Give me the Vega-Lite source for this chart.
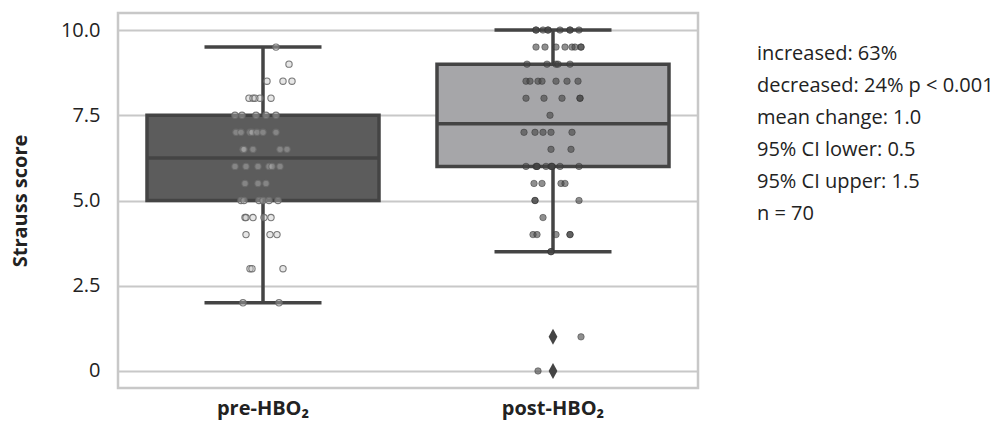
{
  "$schema": "https://vega.github.io/schema/vega-lite/v6.json",
  "padding": {"left": 9, "top": 11, "right": 0, "bottom": 0},
  "spacing": 57,
  "config": {
    "view": {"stroke": null},
    "font": "Open Sans",
    "axis": {"labelFont": "Open Sans", "titleFont": "Open Sans", "labelColor": "#222", "titleColor": "#222"}
  },
  "datasets": {
    "box": [
      {"g": "pre-HBO₂", "lower": 2.0, "q1": 5.0, "median": 6.25, "q3": 7.5, "upper": 9.5},
      {"g": "post-HBO₂", "lower": 3.5, "q1": 6.0, "median": 7.25, "q3": 9.0, "upper": 10.0}
    ],
    "outliers": [
      {"g": "post-HBO₂", "s": 1.0},
      {"g": "post-HBO₂", "s": 0.0}
    ],
    "pre": [
      {"g": "pre-HBO₂", "s": 9.5, "j": 13},
      {"g": "pre-HBO₂", "s": 9.0, "j": 26},
      {"g": "pre-HBO₂", "s": 8.5, "j": 4}, {"g": "pre-HBO₂", "s": 8.5, "j": 20}, {"g": "pre-HBO₂", "s": 8.5, "j": 29},
      {"g": "pre-HBO₂", "s": 8.0, "j": -14}, {"g": "pre-HBO₂", "s": 8.0, "j": -10}, {"g": "pre-HBO₂", "s": 8.0, "j": -8}, {"g": "pre-HBO₂", "s": 8.0, "j": -3}, {"g": "pre-HBO₂", "s": 8.0, "j": 8},
      {"g": "pre-HBO₂", "s": 7.5, "j": -28}, {"g": "pre-HBO₂", "s": 7.5, "j": -21}, {"g": "pre-HBO₂", "s": 7.5, "j": -7}, {"g": "pre-HBO₂", "s": 7.5, "j": 3}, {"g": "pre-HBO₂", "s": 7.5, "j": 13},
      {"g": "pre-HBO₂", "s": 7.0, "j": -27}, {"g": "pre-HBO₂", "s": 7.0, "j": -22}, {"g": "pre-HBO₂", "s": 7.0, "j": -13}, {"g": "pre-HBO₂", "s": 7.0, "j": -11}, {"g": "pre-HBO₂", "s": 7.0, "j": -6}, {"g": "pre-HBO₂", "s": 7.0, "j": 0}, {"g": "pre-HBO₂", "s": 7.0, "j": 13},
      {"g": "pre-HBO₂", "s": 6.5, "j": -20}, {"g": "pre-HBO₂", "s": 6.5, "j": -19}, {"g": "pre-HBO₂", "s": 6.5, "j": -10}, {"g": "pre-HBO₂", "s": 6.5, "j": 17}, {"g": "pre-HBO₂", "s": 6.5, "j": 24},
      {"g": "pre-HBO₂", "s": 6.0, "j": -28}, {"g": "pre-HBO₂", "s": 6.0, "j": -17}, {"g": "pre-HBO₂", "s": 6.0, "j": -5}, {"g": "pre-HBO₂", "s": 6.0, "j": 6}, {"g": "pre-HBO₂", "s": 6.0, "j": 9}, {"g": "pre-HBO₂", "s": 6.0, "j": 17},
      {"g": "pre-HBO₂", "s": 5.5, "j": -18}, {"g": "pre-HBO₂", "s": 5.5, "j": -5}, {"g": "pre-HBO₂", "s": 5.5, "j": 3},
      {"g": "pre-HBO₂", "s": 5.0, "j": -22}, {"g": "pre-HBO₂", "s": 5.0, "j": -19}, {"g": "pre-HBO₂", "s": 5.0, "j": -4}, {"g": "pre-HBO₂", "s": 5.0, "j": 0}, {"g": "pre-HBO₂", "s": 5.0, "j": 6}, {"g": "pre-HBO₂", "s": 5.0, "j": 15},
      {"g": "pre-HBO₂", "s": 4.5, "j": -18}, {"g": "pre-HBO₂", "s": 4.5, "j": -17}, {"g": "pre-HBO₂", "s": 4.5, "j": -10}, {"g": "pre-HBO₂", "s": 4.5, "j": 1}, {"g": "pre-HBO₂", "s": 4.5, "j": 8},
      {"g": "pre-HBO₂", "s": 4.0, "j": -17}, {"g": "pre-HBO₂", "s": 4.0, "j": 7}, {"g": "pre-HBO₂", "s": 4.0, "j": 14},
      {"g": "pre-HBO₂", "s": 3.0, "j": -13}, {"g": "pre-HBO₂", "s": 3.0, "j": -11}, {"g": "pre-HBO₂", "s": 3.0, "j": 20},
      {"g": "pre-HBO₂", "s": 2.0, "j": -20}, {"g": "pre-HBO₂", "s": 2.0, "j": 16}
    ],
    "post": [
      {"g": "post-HBO₂", "s": 10.0, "j": -17}, {"g": "post-HBO₂", "s": 10.0, "j": -17}, {"g": "post-HBO₂", "s": 10.0, "j": -10}, {"g": "post-HBO₂", "s": 10.0, "j": -5}, {"g": "post-HBO₂", "s": 10.0, "j": -5}, {"g": "post-HBO₂", "s": 10.0, "j": 7}, {"g": "post-HBO₂", "s": 10.0, "j": 17}, {"g": "post-HBO₂", "s": 10.0, "j": 17}, {"g": "post-HBO₂", "s": 10.0, "j": 26},
      {"g": "post-HBO₂", "s": 9.5, "j": -17}, {"g": "post-HBO₂", "s": 9.5, "j": -8}, {"g": "post-HBO₂", "s": 9.5, "j": 3}, {"g": "post-HBO₂", "s": 9.5, "j": 12}, {"g": "post-HBO₂", "s": 9.5, "j": 19}, {"g": "post-HBO₂", "s": 9.5, "j": 22}, {"g": "post-HBO₂", "s": 9.5, "j": 28}, {"g": "post-HBO₂", "s": 9.5, "j": 28},
      {"g": "post-HBO₂", "s": 9.0, "j": -26}, {"g": "post-HBO₂", "s": 9.0, "j": -6}, {"g": "post-HBO₂", "s": 9.0, "j": 3}, {"g": "post-HBO₂", "s": 9.0, "j": 5}, {"g": "post-HBO₂", "s": 9.0, "j": 17},
      {"g": "post-HBO₂", "s": 8.5, "j": -27}, {"g": "post-HBO₂", "s": 8.5, "j": -23}, {"g": "post-HBO₂", "s": 8.5, "j": -15}, {"g": "post-HBO₂", "s": 8.5, "j": -11}, {"g": "post-HBO₂", "s": 8.5, "j": 3}, {"g": "post-HBO₂", "s": 8.5, "j": 14}, {"g": "post-HBO₂", "s": 8.5, "j": 25},
      {"g": "post-HBO₂", "s": 8.0, "j": -27}, {"g": "post-HBO₂", "s": 8.0, "j": -9}, {"g": "post-HBO₂", "s": 8.0, "j": 9}, {"g": "post-HBO₂", "s": 8.0, "j": 27}, {"g": "post-HBO₂", "s": 8.0, "j": 27},
      {"g": "post-HBO₂", "s": 7.5, "j": -3},
      {"g": "post-HBO₂", "s": 7.0, "j": -29}, {"g": "post-HBO₂", "s": 7.0, "j": -18}, {"g": "post-HBO₂", "s": 7.0, "j": -10}, {"g": "post-HBO₂", "s": 7.0, "j": -2}, {"g": "post-HBO₂", "s": 7.0, "j": 19},
      {"g": "post-HBO₂", "s": 6.5, "j": -2}, {"g": "post-HBO₂", "s": 6.5, "j": 18},
      {"g": "post-HBO₂", "s": 6.0, "j": -27}, {"g": "post-HBO₂", "s": 6.0, "j": -17}, {"g": "post-HBO₂", "s": 6.0, "j": -16}, {"g": "post-HBO₂", "s": 6.0, "j": -16}, {"g": "post-HBO₂", "s": 6.0, "j": -7}, {"g": "post-HBO₂", "s": 6.0, "j": -2}, {"g": "post-HBO₂", "s": 6.0, "j": -1}, {"g": "post-HBO₂", "s": 6.0, "j": -1}, {"g": "post-HBO₂", "s": 6.0, "j": 7}, {"g": "post-HBO₂", "s": 6.0, "j": 26},
      {"g": "post-HBO₂", "s": 5.5, "j": -19}, {"g": "post-HBO₂", "s": 5.5, "j": -11}, {"g": "post-HBO₂", "s": 5.5, "j": 8}, {"g": "post-HBO₂", "s": 5.5, "j": 12},
      {"g": "post-HBO₂", "s": 5.0, "j": -18}, {"g": "post-HBO₂", "s": 5.0, "j": -18}, {"g": "post-HBO₂", "s": 5.0, "j": 26},
      {"g": "post-HBO₂", "s": 4.5, "j": -10},
      {"g": "post-HBO₂", "s": 4.0, "j": -20}, {"g": "post-HBO₂", "s": 4.0, "j": -16}, {"g": "post-HBO₂", "s": 4.0, "j": 3}, {"g": "post-HBO₂", "s": 4.0, "j": 17}, {"g": "post-HBO₂", "s": 4.0, "j": 17},
      {"g": "post-HBO₂", "s": 3.5, "j": -2}, {"g": "post-HBO₂", "s": 3.5, "j": -2},
      {"g": "post-HBO₂", "s": 1.0, "j": 28},
      {"g": "post-HBO₂", "s": 0.0, "j": -15}
    ],
    "notes": [
      {"line": 1, "t": "increased: 63%"},
      {"line": 2, "t": "decreased: 24% p < 0.001"},
      {"line": 3, "t": "mean change: 1.0"},
      {"line": 4, "t": "95% CI lower: 0.5"},
      {"line": 5, "t": "95% CI upper: 1.5"},
      {"line": 6, "t": "n = 70"}
    ]
  },
  "hconcat": [
    {
      "width": 580,
      "height": 375,
      "view": {"stroke": "#c8c8c8", "strokeWidth": 2.5},
      "encoding": {
        "x": {
          "field": "g", "type": "nominal",
          "scale": {"domain": ["pre-HBO₂", "post-HBO₂"], "paddingInner": 0, "paddingOuter": 0},
          "axis": {"title": null, "labelAngle": 0, "ticks": false, "domain": false, "labelFontSize": 20, "labelFontWeight": "bold", "labelPadding": 10}
        }
      },
      "layer": [
        {
          "data": {"name": "box"},
          "mark": {"type": "rule", "color": "#444", "strokeWidth": 3.5},
          "encoding": {
            "y": {
              "field": "lower", "type": "quantitative",
              "scale": {"domain": [-0.5, 10.5], "nice": false, "zero": false},
              "axis": {
                "title": "Strauss score", "values": [0, 2.5, 5, 7.5, 10],
                "labelExpr": "datum.value == 0 ? '0' : format(datum.value, '.1f')",
                "ticks": false, "domain": false, "grid": true, "gridColor": "#c8c8c8", "gridWidth": 2,
                "labelFontSize": 20, "labelPadding": 18, "titleFontSize": 20, "titleFontWeight": "bold", "titlePadding": 30
              }
            },
            "y2": {"field": "upper"}
          }
        },
        {
          "data": {"name": "box"},
          "mark": {"type": "bar", "width": 232, "stroke": "#444", "strokeWidth": 3.5},
          "encoding": {
            "y": {"field": "q1", "type": "quantitative"},
            "y2": {"field": "q3"},
            "color": {"field": "g", "type": "nominal", "scale": {"domain": ["pre-HBO₂", "post-HBO₂"], "range": ["#5c5c5c", "#a6a6a9"]}, "legend": null}
          }
        },
        {
          "data": {"name": "box"},
          "mark": {"type": "tick", "color": "#444", "size": 232, "thickness": 3.5, "opacity": 1},
          "encoding": {"y": {"field": "median", "type": "quantitative"}}
        },
        {
          "data": {"name": "box"},
          "mark": {"type": "tick", "color": "#444", "size": 117, "thickness": 3.5, "opacity": 1},
          "encoding": {"y": {"field": "lower", "type": "quantitative"}}
        },
        {
          "data": {"name": "box"},
          "mark": {"type": "tick", "color": "#444", "size": 117, "thickness": 3.5, "opacity": 1},
          "encoding": {"y": {"field": "upper", "type": "quantitative"}}
        },
        {
          "data": {"name": "outliers"},
          "mark": {"type": "point", "shape": "M0,-1L0.55,0L0,1L-0.55,0Z", "size": 256, "filled": true, "color": "#444", "opacity": 1},
          "encoding": {"y": {"field": "s", "type": "quantitative"}}
        },
        {
          "data": {"name": "pre"},
          "mark": {"type": "circle", "size": 40, "fill": "#c4c4c4", "fillOpacity": 0.4, "stroke": "#6a6a6a", "strokeWidth": 1.1, "strokeOpacity": 0.9},
          "encoding": {
            "y": {"field": "s", "type": "quantitative"},
            "xOffset": {"field": "j", "type": "quantitative", "scale": {"domain": [-145, 145]}}
          }
        },
        {
          "data": {"name": "post"},
          "mark": {"type": "circle", "size": 42, "fill": "#444", "fillOpacity": 0.6, "stroke": "#333", "strokeWidth": 0.8, "strokeOpacity": 0.6},
          "encoding": {
            "y": {"field": "s", "type": "quantitative"},
            "xOffset": {"field": "j", "type": "quantitative", "scale": {"domain": [-145, 145]}}
          }
        }
      ]
    },
    {
      "width": 236,
      "height": 375,
      "data": {"name": "notes"},
      "mark": {"type": "text", "align": "left", "baseline": "alphabetic", "fontSize": 20, "font": "Open Sans", "color": "#222"},
      "encoding": {
        "x": {"datum": 0, "type": "quantitative", "scale": {"domain": [0, 1]}, "axis": null},
        "y": {"field": "line", "type": "quantitative", "scale": {"domain": [-0.46875, 11.25], "reverse": true, "nice": false, "zero": false}, "axis": null},
        "text": {"field": "t"}
      }
    }
  ]
}
